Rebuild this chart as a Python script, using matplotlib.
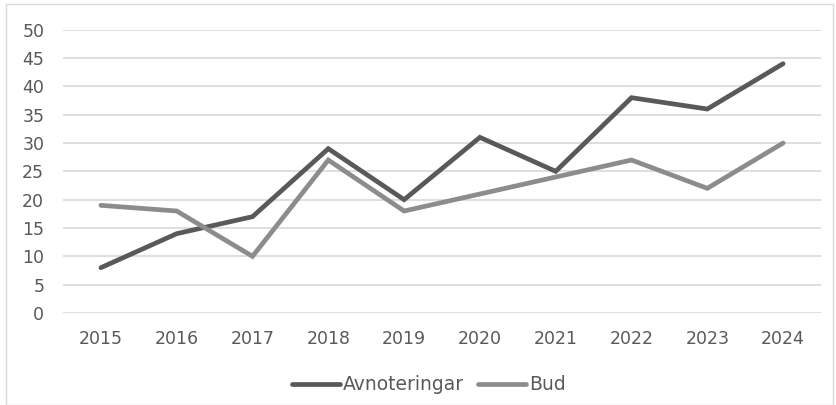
import matplotlib
matplotlib.use("Agg")
import matplotlib.pyplot as plt
from matplotlib.patches import Rectangle

years = ["2015", "2016", "2017", "2018", "2019", "2020", "2021", "2022", "2023", "2024"]
avnoteringar = [8, 14, 17, 29, 20, 31, 25, 38, 36, 44]
bud = [19, 18, 10, 27, 18, 21, 24, 27, 22, 30]
y_ticks = [0, 5, 10, 15, 20, 25, 30, 35, 40, 45, 50]

plt.rcParams['font.family'] = ['DejaVu Sans']

fig = plt.figure(figsize=(8.37, 4.05), dpi=100)
fig.patch.set_facecolor("white")
ax = fig.add_axes([63/837, (405-313)/405, (821-63)/837, (313-29.7)/405])

x = list(range(len(years)))
ax.plot(x, avnoteringar, color="#595959", lw=3.4, solid_capstyle="round", solid_joinstyle="miter", label="Avnoteringar", zorder=3)
ax.plot(x, bud, color="#8c8c8c", lw=3.4, solid_capstyle="round", solid_joinstyle="miter", label="Bud", zorder=3)

ax.set_xlim(-0.5, len(years) - 0.5)
ax.set_ylim(0, 50)
ax.set_yticks(y_ticks)
ax.set_xticks(x)
ax.set_xticklabels(years)
ax.grid(axis="y", color="#d9d9d9", lw=1.2)
ax.set_axisbelow(True)
for s in ax.spines.values():
    s.set_visible(False)
ax.tick_params(axis="both", length=0, labelsize=12.5, labelcolor="#595959")
ax.tick_params(axis="x", pad=12)
ax.tick_params(axis="y", pad=13.5)

leg = fig.legend(loc="center", bbox_to_anchor=(429/837, 1 - 385/405), ncol=2, frameon=False,
                 fontsize=13.5, handlelength=2.56, handletextpad=0.15, columnspacing=0.75)
for t in leg.get_texts():
    t.set_color("#595959")

fig.patches.append(Rectangle((6/837, 0.0), (833-6)/837, 1 - 4/405 - 0.0, transform=fig.transFigure,
                             fill=False, edgecolor="#d9d9d9", lw=1.0))

fig.savefig("out.png", dpi=100)
